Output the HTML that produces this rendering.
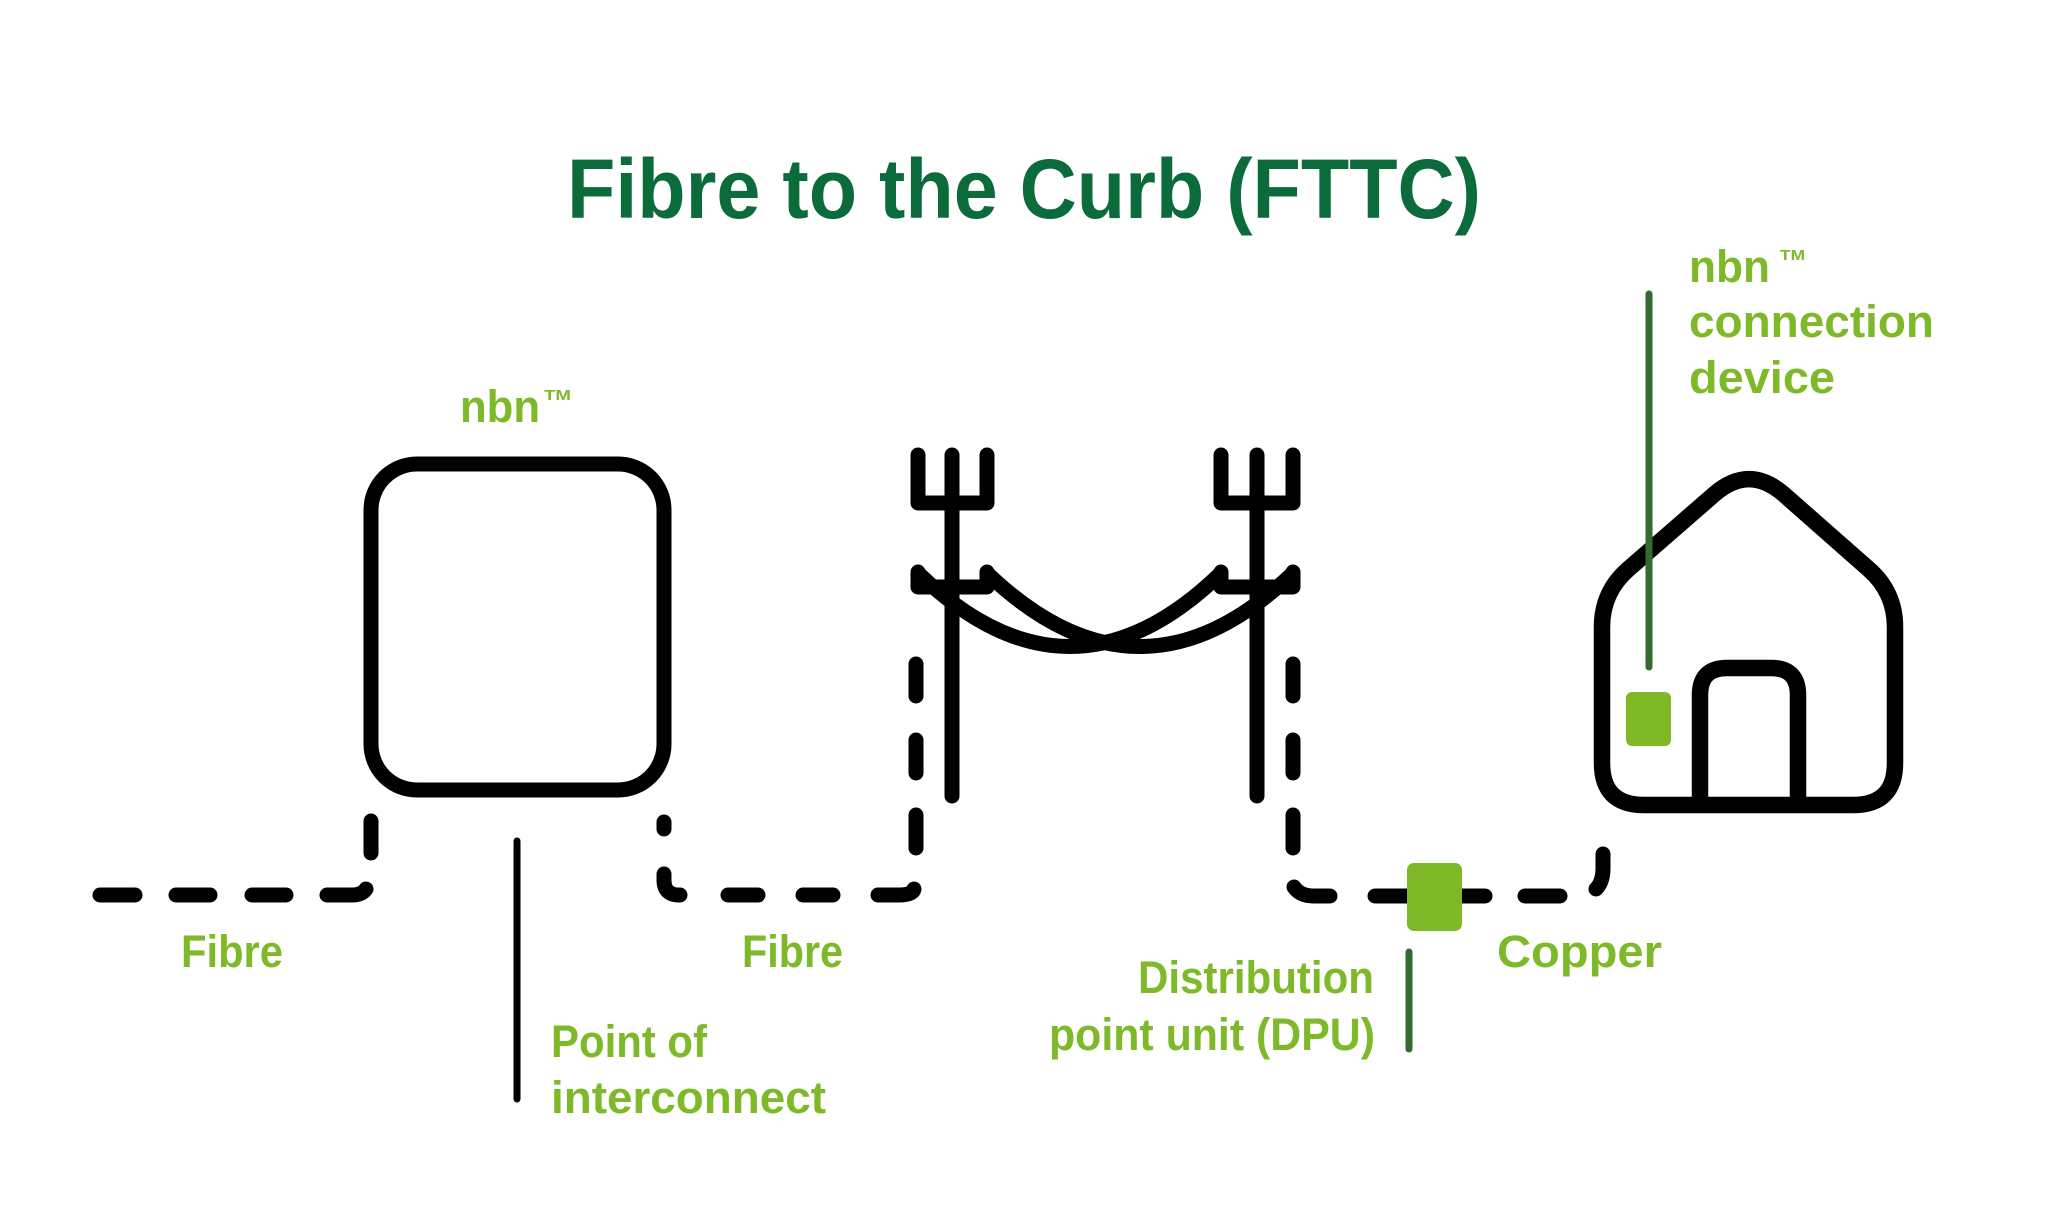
<!DOCTYPE html>
<html>
<head>
<meta charset="utf-8">
<style>
  html, body { margin: 0; padding: 0; background: #ffffff; }
  svg { display: block; }
  .lbl { font-family: "Liberation Sans", Arial, sans-serif; font-weight: bold; font-size: 45px; fill: #7db928; }
  .tm { font-family: "Liberation Sans", Arial, sans-serif; font-weight: bold; font-size: 15px; fill: #7db928; }
  .ttl { font-family: "Liberation Sans", Arial, sans-serif; font-weight: bold; font-size: 84px; fill: #0b6b3a; }
  .k { fill: none; stroke: #000; stroke-width: 15; stroke-linecap: round; stroke-linejoin: round; }
</style>
</head>
<body>
<svg width="2048" height="1229" viewBox="0 0 2048 1229" xmlns="http://www.w3.org/2000/svg">
  <rect x="0" y="0" width="2048" height="1229" fill="#ffffff"/>

  <!-- Title -->
  <text class="ttl" x="567" y="218" textLength="914" lengthAdjust="spacingAndGlyphs">Fibre to the Curb (FTTC)</text>

  <!-- nbn box -->
  <rect x="371" y="464" width="293" height="326" rx="46" ry="46" class="k"/>
  <text class="lbl" x="460" y="422" textLength="80" lengthAdjust="spacingAndGlyphs">nbn</text>
  <text class="tm" x="544" y="400" textLength="27" lengthAdjust="spacingAndGlyphs">TM</text>

  <!-- Left fibre dashes -->
  <path class="k" d="M371 821 L371 853"/>
  <path class="k" d="M327 895 L352 895 Q362 895 366 889"/>
  <path class="k" d="M252 895 L286 895"/>
  <path class="k" d="M176 895 L210 895"/>
  <path class="k" d="M100 895 L135 895"/>

  <!-- Fibre from box to pole -->
  <path class="k" d="M664 822 L664 829"/>
  <path class="k" d="M664 874 L664 880 Q664 895 679 895 L680 895"/>
  <path class="k" d="M728 895 L758 895"/>
  <path class="k" d="M803 895 L833 895"/>
  <path class="k" d="M878 895 L898 895 Q913 895 914 889"/>
  <path class="k" d="M916 815 L916 848"/>
  <path class="k" d="M916 740 L916 773"/>
  <path class="k" d="M916 664 L916 696"/>

  <!-- Left pole -->
  <path class="k" d="M952 455 L952 796"/>
  <path class="k" d="M918 455 L918 503 L987 503 L987 455"/>
  <path class="k" d="M918 572 L918 587 L987 587 L987 572"/>
  <!-- Right pole -->
  <path class="k" d="M1257 455 L1257 796"/>
  <path class="k" d="M1221 455 L1221 503 L1293 503 L1293 455"/>
  <path class="k" d="M1221 572 L1221 587 L1293 587 L1293 572"/>
  <!-- Wires -->
  <path class="k" d="M918 573 Q1070 720 1221 573"/>
  <path class="k" d="M987 573 Q1140 720 1293 573"/>

  <!-- Right pole dashes down to DPU -->
  <path class="k" d="M1293 664 L1293 696"/>
  <path class="k" d="M1293 740 L1293 773"/>
  <path class="k" d="M1293 815 L1293 848"/>
  <path class="k" d="M1294 887 Q1300 896 1314 896 L1330 896"/>
  <path class="k" d="M1375 896 L1414 896"/>
  <path class="k" d="M1455 896 L1485 896"/>
  <path class="k" d="M1525 896 L1560 896"/>
  <path class="k" d="M1596 889 Q1603 882 1603 868 L1603 854"/>

  <!-- DPU -->
  <rect x="1407" y="863" width="55" height="68" rx="7" ry="7" fill="#80b927"/>
  <line x1="1409" y1="952" x2="1409" y2="1049" stroke="#336b2f" stroke-width="7" stroke-linecap="round"/>

  <!-- House -->
  <path d="M1644 805 Q1602 805 1602 763 L1602 627 Q1602 592 1628.4 569 L1714.3 494.2 Q1749 464 1783.7 494.2 L1868.6 569 Q1895 592 1895 627 L1895 763 Q1895 805 1853 805 Z"
        fill="none" stroke="#000" stroke-width="16.5" stroke-linejoin="round"/>
  <path d="M1700 805 L1700 695 Q1700 668 1727 668 L1771 668 Q1798 668 1798 695 L1798 805"
        fill="none" stroke="#000" stroke-width="16.5" stroke-linejoin="round"/>
  <rect x="1626" y="692" width="45" height="54" rx="6" ry="6" fill="#80b927"/>
  <line x1="1649" y1="294" x2="1649" y2="667" stroke="#336b2f" stroke-width="7" stroke-linecap="round"/>

  <!-- POI leader -->
  <line x1="517" y1="841" x2="517" y2="1099" stroke="#000" stroke-width="7" stroke-linecap="round"/>

  <!-- Labels -->
  <text class="lbl" x="181" y="967" textLength="102" lengthAdjust="spacingAndGlyphs">Fibre</text>
  <text class="lbl" x="742" y="967" textLength="101" lengthAdjust="spacingAndGlyphs">Fibre</text>
  <text class="lbl" x="551" y="1057" textLength="156" lengthAdjust="spacingAndGlyphs">Point of</text>
  <text class="lbl" x="551" y="1113" textLength="275" lengthAdjust="spacingAndGlyphs">interconnect</text>
  <text class="lbl" x="1138" y="993" textLength="236" lengthAdjust="spacingAndGlyphs">Distribution</text>
  <text class="lbl" x="1049" y="1050" textLength="326" lengthAdjust="spacingAndGlyphs">point unit (DPU)</text>
  <text class="lbl" x="1497" y="967" textLength="165" lengthAdjust="spacingAndGlyphs">Copper</text>

  <text class="lbl" x="1689" y="282" textLength="81" lengthAdjust="spacingAndGlyphs">nbn</text>
  <text class="tm" x="1780" y="260" textLength="25" lengthAdjust="spacingAndGlyphs">TM</text>
  <text class="lbl" x="1689" y="337" textLength="245" lengthAdjust="spacingAndGlyphs">connection</text>
  <text class="lbl" x="1689" y="393" textLength="146" lengthAdjust="spacingAndGlyphs">device</text>
</svg>
</body>
</html>
